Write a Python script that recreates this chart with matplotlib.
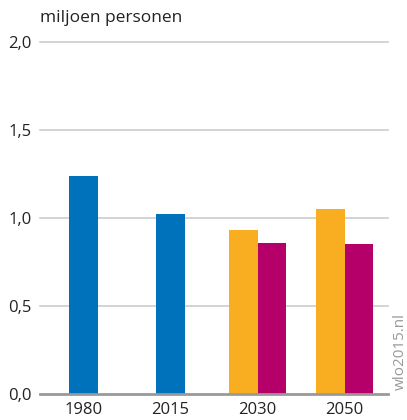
import matplotlib.pyplot as plt
import numpy as np

plt.rcParams['font.family'] = ['Open Sans', 'DejaVu Sans']

years = ['1980', '2015', '2030', '2050']
historic = [1.24, 1.02, None, None]
scenario_high = [None, None, 0.93, 1.05]
scenario_low = [None, None, 0.86, 0.855]
yticks = [0.0, 0.5, 1.0, 1.5, 2.0]
ytick_labels = ['0,0', '0,5', '1,0', '1,5', '2,0']

blue = '#0071bb'
orange = '#f9ad20'
magenta = '#b5006a'

fig = plt.figure(figsize=(4.07, 4.20), dpi=100)
ax = fig.add_axes([40 / 407, 26 / 420, 348 / 407, 352 / 420])

x = np.arange(len(years))
w = 0.33
for i in range(len(years)):
    if historic[i] is not None:
        ax.bar(x[i], historic[i], w, color=blue, zorder=3)
    if scenario_high[i] is not None:
        ax.bar(x[i] - w / 2, scenario_high[i], w, color=orange, zorder=3)
        ax.bar(x[i] + w / 2, scenario_low[i], w, color=magenta, zorder=3)

ax.set_xlim(-0.5, 3.5)
ax.set_ylim(0, 2.0)
for y in yticks[1:]:
    ax.axhline(y, color='#cccccc', lw=1.2, zorder=1, clip_on=False)
ax.axhline(0, color='#999999', lw=2, zorder=4, clip_on=False)

ax.set_yticks(yticks)
ax.set_yticklabels(ytick_labels)
ax.set_xticks(x)
ax.set_xticklabels(years)
ax.tick_params(length=0, labelsize=12, colors='#222222')
ax.tick_params(axis='y', pad=6)
ax.tick_params(axis='x', pad=6)
for s in ax.spines.values():
    s.set_visible(False)

fig.text(40 / 407, 1 - 18 / 420, 'miljoen personen', fontsize=12.5,
         va='center', ha='left', color='#222222')
fig.text(400 / 407, 1 - 352 / 420, 'wlo2015.nl', rotation=90, fontsize=11,
         va='center', ha='center', color='#999999')

plt.savefig('out.png', dpi=100)
